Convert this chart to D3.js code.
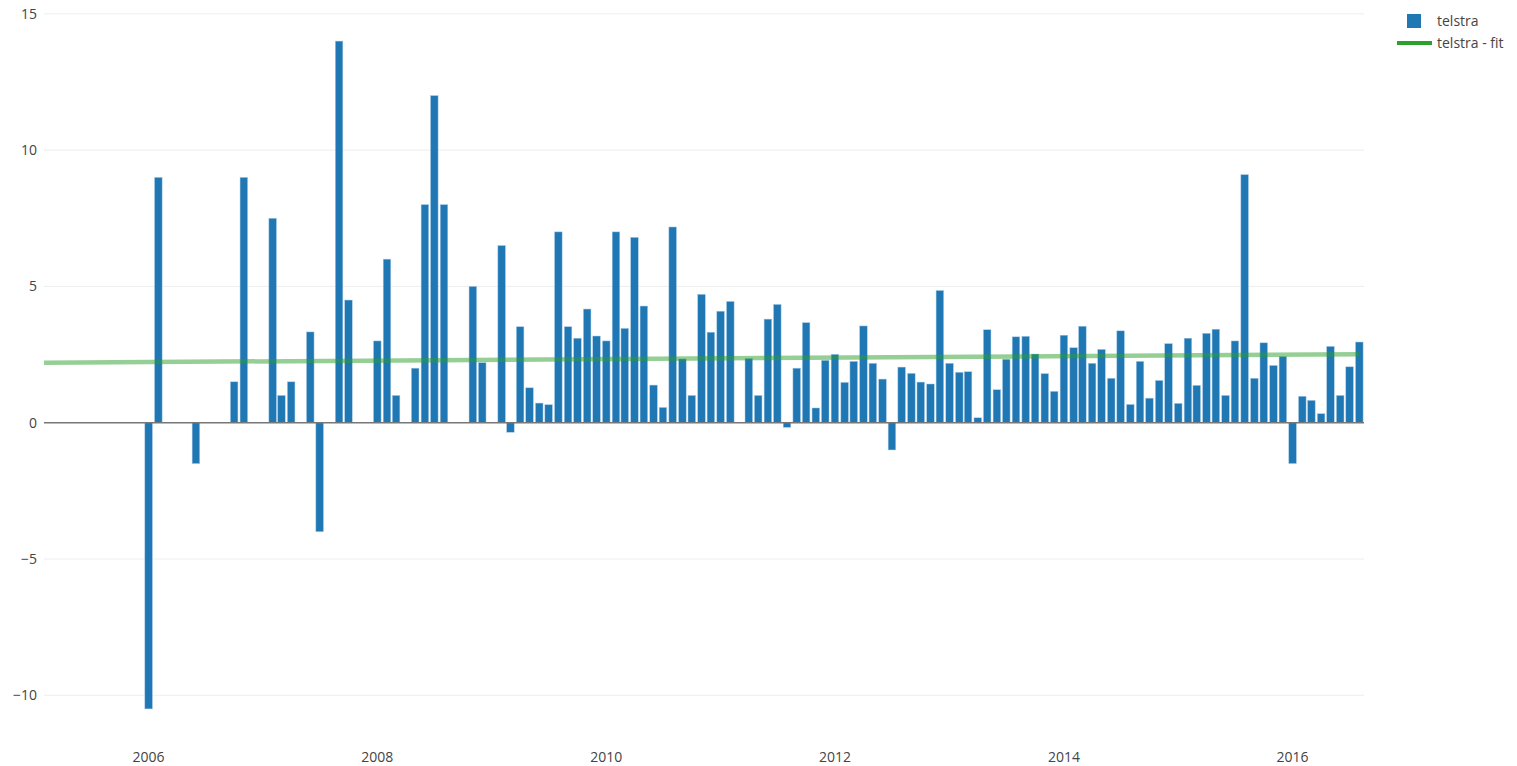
<!DOCTYPE html>
<html>
<head>
<meta charset="utf-8">
<script src="https://cdn.jsdelivr.net/npm/d3@7"></script>
<style>
  body { margin: 0; background: #fff; }
  text { font-family: "Open Sans", "Noto Sans", sans-serif; }
</style>
</head>
<body>
<div id="chart"></div>
<script>
// monthly values, Jan 2006 .. Aug 2016 (null = no bar)
var firstMonth = "2006-01-01";
var lastMonth = "2016-08-01";
var telstra = [
  -10.5, 9, null, null, null, -1.5, null, null, null, 1.5, 9, null,
  null, 7.5, 1, 1.5, null, 3.33, -4, null, 14, 4.5, null, null,
  3, 6, 1, null, 2, 8, 12, 8, null, null, 5, 2.2,
  null, 6.5, -0.35, 3.52, 1.28, 0.72, 0.66, 7, 3.52, 3.1, 4.17, 3.18,
  3.0, 7.0, 3.46, 6.8, 4.28, 1.38, 0.56, 7.18, 2.34, 1.0, 4.71, 3.32,
  4.09, 4.45, null, 2.36, 1.0, 3.8, 4.34, -0.17, 2.0, 3.67, 0.54, 2.29,
  2.51, 1.48, 2.25, 3.55, 2.18, 1.6, -1.0, 2.04, 1.81, 1.49, 1.42, 4.85,
  2.18, 1.85, 1.87, 0.18, 3.41, 1.21, 2.33, 3.15, 3.17, 2.52, 1.8, 1.15,
  3.21, 2.75, 3.54, 2.18, 2.69, 1.63, 3.37, 0.67, 2.25, 0.9, 1.55, 2.9,
  0.71, 3.1, 1.37, 3.28, 3.43, 1.0, 3.0, 9.1, 1.63, 2.93, 2.1, 2.43,
  -1.5, 0.97, 0.82, 0.33, 2.8, 1.0, 2.05, 2.96
];
var fitDates = ["2005-02-01", "2016-08-01"];
var fitValues = [2.2, 2.51];
var xTickYears = [2006, 2008, 2010, 2012, 2014, 2016];
var yTicks = [-10, -5, 0, 5, 10, 15];
var seriesNames = ["telstra", "telstra - fit"];

var createChart = () => {
  const width = 1517;
  const height = 766;
  const left = 44, right = 1364, top = 7.7, bottom = 742.3;
  const parse = d3.timeParse("%Y-%m-%d");

  const months = d3.timeMonth.range(parse(firstMonth), d3.timeMonth.offset(parse(lastMonth), 1));
  const bars = months.map((d, i) => ({date: d, value: telstra[i]})).filter(d => d.value != null);

  const x = d3.scaleTime()
    .domain([parse(fitDates[0]), d3.timeDay.offset(parse(lastMonth), 15)])
    .range([left, right]);
  const y = d3.scaleLinear().domain([-11.725, 15.225]).range([bottom, top]);

  const svg = d3.select("#chart").append("svg")
    .attr("width", width)
    .attr("height", height);

  // grid
  svg.selectAll(".grid")
    .data(yTicks.filter(d => d != 0))
    .enter().append("line")
    .attr("x1", left).attr("x2", right)
    .attr("y1", d => y(d)).attr("y2", d => y(d))
    .attr("stroke", "#eee").attr("stroke-width", 1);

  // y labels
  svg.selectAll(".ylab")
    .data(yTicks)
    .enter().append("text")
    .attr("x", left - 7)
    .attr("y", d => y(d))
    .attr("dy", "0.36em")
    .attr("text-anchor", "end")
    .attr("font-size", 14)
    .attr("fill", "#444")
    .text(d => d3.format("")(d).replace("-", "\u2212"));

  // x labels
  svg.selectAll(".xlab")
    .data(xTickYears)
    .enter().append("text")
    .attr("x", d => x(new Date(d, 0, 1)))
    .attr("y", 762)
    .attr("text-anchor", "middle")
    .attr("font-size", 14)
    .attr("fill", "#444")
    .text(d => d);

  // bars
  const bw = (x(months[1]) - x(months[0])) * 0.78;
  svg.selectAll(".bar")
    .data(bars)
    .enter().append("rect")
    .attr("x", d => x(d.date) - bw / 2)
    .attr("width", bw)
    .attr("y", d => y(Math.max(0, d.value)))
    .attr("height", d => Math.abs(y(d.value) - y(0)))
    .attr("fill", "#1f77b4")
    .attr("stroke", "#a9cbe6")
    .attr("stroke-width", 0.5);

  // zero line
  svg.append("line")
    .attr("x1", left).attr("x2", right)
    .attr("y1", y(0)).attr("y2", y(0))
    .attr("stroke", "#777").attr("stroke-width", 1.5);

  // fit line
  const line = d3.line().x(d => x(parse(d[0]))).y(d => y(d[1]));
  svg.append("path")
    .attr("d", line(fitDates.map((d, i) => [d, fitValues[i]])))
    .attr("fill", "none")
    .attr("stroke", "#2ca02c")
    .attr("stroke-opacity", 0.5)
    .attr("stroke-width", 4.5);

  // legend
  const lg = svg.append("g");
  lg.append("rect").attr("x", 1407).attr("y", 14).attr("width", 14).attr("height", 14)
    .attr("fill", "#1f77b4");
  lg.append("line").attr("x1", 1397).attr("x2", 1432).attr("y1", 43).attr("y2", 43)
    .attr("stroke", "#2ca02c").attr("stroke-width", 4);
  lg.selectAll(".lt")
    .data(seriesNames)
    .enter().append("text")
    .attr("x", 1437)
    .attr("y", (d, i) => 21 + i * 22)
    .attr("dy", "0.36em")
    .attr("font-size", 14)
    .attr("fill", "#444")
    .text(d => d);
}

createChart();
</script>
</body>
</html>
